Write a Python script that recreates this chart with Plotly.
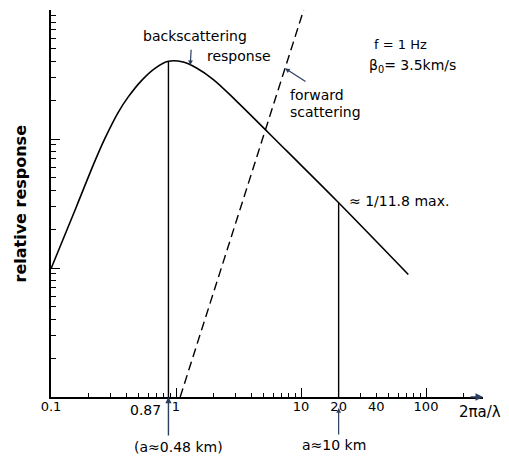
import numpy as np
import plotly.graph_objects as go

# ---- data ----
back_x = [0.1, 0.16, 0.218, 0.270, 0.345, 0.415, 0.532, 0.679, 0.87, 1.14, 1.46, 1.99, 3.06, 7.69, 19.3, 72.2]
back_y = [9.86, 30, 63, 101, 161, 212, 285, 353, 400, 395, 355, 289, 196, 80.8, 33.2, 8.9]

fwd_x = [1.08, 10.5]
fwd_y = [1, 1000]

mark_x = [0.87, 20]          # vertical marker lines
mark_y = [400, 32]

xtick_vals = [0.1, 1, 10, 20, 40, 100]
xtick_text = ["0.1", "1", "10", "20", "40", "100"]
major_vals = [0.1, 1, 10, 100]
minor_x = [m * 10.0 ** k for k in (-1, 0, 1, 2) for m in range(2, 10)]
ymajor_vals = [1, 10, 100, 1000]
minor_y = [m * 10.0 ** k for k in (0, 1, 2) for m in range(2, 10)]

XR = [-1, 2.456]
YR = [0, 3]
FONT = "DejaVu Sans"

fig = go.Figure()
fig.add_trace(go.Scatter(x=back_x, y=back_y, mode="lines",
                         line=dict(color="black", width=1.6, shape="spline", smoothing=1.0)))
fig.add_trace(go.Scatter(x=fwd_x, y=fwd_y, mode="lines",
                         line=dict(color="black", width=1.4, dash="9px,5px")))
for mx, my in zip(mark_x, mark_y):
    fig.add_trace(go.Scatter(x=[mx, mx], y=[1, my], mode="lines", xaxis="x2",
                             line=dict(color="black", width=1.4)))

def lg(v):
    return float(np.log10(v))

def on_curve(xv, xs, ys):
    return float(np.interp(np.log10(xv), np.log10(xs), np.log10(ys)))

ann = []
tf = dict(family=FONT, size=14, color="black")
# text labels
ann.append(dict(x=lg(1.42), y=2.795, xref="x", yref="y", text="backscattering",
                showarrow=False, font=tf, xanchor="center", yanchor="middle"))
ann.append(dict(x=lg(3.2), y=2.641, xref="x", yref="y", text="response",
                showarrow=False, font=tf, xanchor="center", yanchor="middle"))
ann.append(dict(x=lg(1.3), y=on_curve(1.3, back_x, back_y), xref="x", yref="y", text="",
                showarrow=True, arrowhead=2, arrowsize=0.8, arrowwidth=1.2, ax=1, ay=-17))
ann.append(dict(x=lg(7.45), y=on_curve(7.45, fwd_x, fwd_y), xref="x", yref="y", text="",
                showarrow=True, arrowhead=2, arrowsize=0.8, arrowwidth=1.2, ax=22, ay=14))
ann.append(dict(x=lg(7.87), y=(397 - 95) / 129.0, xref="x", yref="y", text="forward",
                showarrow=False, font=tf, xanchor="left", yanchor="middle"))
ann.append(dict(x=lg(7.87), y=(397 - 112) / 129.0, xref="x", yref="y", text="scattering",
                showarrow=False, font=tf, xanchor="left", yanchor="middle"))
ann.append(dict(x=lg(37), y=2.734, xref="x", yref="y", text="f = 1 Hz",
                showarrow=False, font=dict(family=FONT, size=13, color="black"),
                xanchor="left", yanchor="middle"))
ann.append(dict(x=lg(33.7), y=2.568, xref="x", yref="y", text="β<sub>0</sub>= 3.5km/s",
                showarrow=False, font=tf, xanchor="left", yanchor="middle"))
ann.append(dict(x=lg(23.3), y=1.521, xref="x", yref="y", text="≈ 1/11.8 max.",
                showarrow=False, font=tf, xanchor="left", yanchor="middle"))
# tick-like label 0.87 and arrows below axis
ann.append(dict(x=lg(0.87), y=0, xref="x", yref="paper", text="0.87",
                showarrow=False, font=dict(family=FONT, size=14, color="black"),
                xanchor="right", yanchor="top", xshift=-5, yshift=-3))
ann.append(dict(x=lg(0.87), y=0, xref="x", yref="paper", text="",
                showarrow=True, arrowhead=2, arrowsize=0.9, arrowwidth=1.4, ax=0, ay=40))
ann.append(dict(x=lg(1.04), y=0, xref="x", yref="paper", text="(a≈0.48 km)",
                showarrow=False, font=tf, xanchor="center", yanchor="top", yshift=-40))
ann.append(dict(x=lg(20), y=0, xref="x", yref="paper", text="",
                showarrow=True, arrowhead=2, arrowsize=0.8, arrowwidth=1.2, ax=0, ay=28, yshift=-11))
ann.append(dict(x=lg(20), y=0, xref="x", yref="paper", text="a≈10 km",
                showarrow=False, font=tf, xanchor="center", yanchor="top", yshift=-38, xshift=-5))
# axis arrow and axis titles
ann.append(dict(x=1, y=0, xref="paper", yref="paper", text="",
                showarrow=True, arrowhead=2, arrowsize=1, arrowwidth=1.5, ax=-14, ay=0))
ann.append(dict(x=1, y=0, xref="paper", yref="paper", text="2πa/λ",
                showarrow=False, font=dict(family=FONT, size=15, color="black"),
                xanchor="center", yanchor="top", xshift=-3, yshift=-4))
ann.append(dict(x=0, y=0.5, xref="paper", yref="paper", text="<b>relative response</b>",
                showarrow=False, font=dict(family=FONT, size=16, color="black"),
                textangle=-90, xanchor="center", yanchor="middle", xshift=-31))

fig.update_layout(
    width=509, height=464,
    margin=dict(l=51, r=26, t=10, b=67),
    paper_bgcolor="white", plot_bgcolor="white",
    showlegend=False,
    annotations=ann,
    xaxis=dict(type="log", range=XR, showgrid=False, zeroline=False,
               showline=True, linecolor="black", linewidth=1.5,
               tickvals=major_vals, ticks="inside", ticklen=9, tickwidth=1.2, tickcolor="black",
               showticklabels=False,
               minor=dict(tickvals=minor_x, ticks="inside", ticklen=4, tickwidth=1, tickcolor="black")),
    xaxis2=dict(type="log", range=XR, overlaying="x", anchor="y", side="bottom",
                showgrid=False, zeroline=False, showline=False, ticks="",
                tickvals=xtick_vals, ticktext=xtick_text,
                tickfont=dict(family=FONT, size=13, color="black")),
    yaxis=dict(type="log", range=YR, showgrid=False, zeroline=False,
               showline=True, linecolor="black", linewidth=1.5,
               tickvals=ymajor_vals, ticks="inside", ticklen=9, tickwidth=1.2, tickcolor="black",
               showticklabels=False,
               minor=dict(tickvals=minor_y, ticks="inside", ticklen=5, tickwidth=1, tickcolor="black")),
)

fig.write_html("out.html")
